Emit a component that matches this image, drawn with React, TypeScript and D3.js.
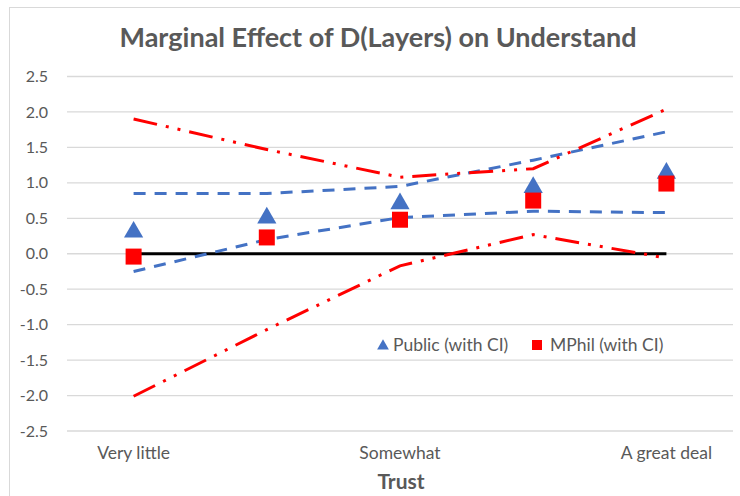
import React from "react";
import * as d3 from "d3";

const categories = ["Very little", "Not much", "Somewhat", "Quite a lot", "A great deal"];
const tickLabels = ["Very little", "", "Somewhat", "", "A great deal"];
const yTicks = [2.5, 2.0, 1.5, 1.0, 0.5, 0.0, -0.5, -1.0, -1.5, -2.0, -2.5];

const publicEst = [0.32, 0.52, 0.72, 0.95, 1.15];
const publicUpper = [0.85, 0.85, 0.95, 1.32, 1.72];
const publicLower = [-0.25, 0.2, 0.51, 0.6, 0.58];

const mphilEst = [-0.04, 0.23, 0.48, 0.75, 0.99];
const mphilUpper = [1.9, 1.47, 1.08, 1.2, 2.04];
const mphilLower = [-2.01, -1.07, -0.17, 0.27, -0.06];

const zeroLine = [0, 0, 0, 0, 0];

const FONT = "Lato, 'Open Sans', sans-serif";
const GRAY = "#595959";
const BLUE = "#4472C4";
const RED = "#FF0000";

export default function App() {
  const W = 740;
  const H = 496;
  const x = d3.scaleBand<string>().domain(categories).range([67, 733]);
  const y = d3.scaleLinear().domain([-2.5, 2.5]).range([431, 76.5]);
  const cx = (i: number) => (x(categories[i]) as number) + x.bandwidth() / 2;

  const line = d3
    .line<number>()
    .x((_, i) => cx(i))
    .y((d) => y(d));

  const tri = d3.symbol().type(d3.symbolTriangle).size(160);
  const triLegend = d3.symbol().type(d3.symbolTriangle).size(60);

  return (
    <div style={{ position: "absolute", left: 0, top: 0 }}>
      <svg width={W} height={H} style={{ display: "block", background: "#fff" }}>
        <rect x={9.5} y={7.5} width={W + 10} height={H + 10} fill="#fff" stroke="#d9d9d9" strokeWidth={1} />
        <text
          x={378}
          y={47}
          textAnchor="middle"
          fontFamily={FONT}
          fontWeight="bold"
          fontSize={27}
          fill={GRAY}
        >
          Marginal Effect of D(Layers) on Understand
        </text>
        {yTicks.map((t) => (
          <g key={t}>
            <line x1={67} x2={733} y1={y(t)} y2={y(t)} stroke="#d9d9d9" strokeWidth={1.3} />
            <text
              x={48}
              y={y(t)}
              dy="0.35em"
              textAnchor="end"
              fontFamily={FONT}
              fontSize={16}
              fill={GRAY}
            >
              {t.toFixed(1)}
            </text>
          </g>
        ))}
        {tickLabels.map((l, i) => (
          <text
            key={i}
            x={cx(i)}
            y={459}
            textAnchor="middle"
            fontFamily={FONT}
            fontSize={17.5}
            fill={GRAY}
          >
            {l}
          </text>
        ))}
        <text x={401} y={489} textAnchor="middle" fontFamily={FONT} fontWeight="bold" fontSize={21} fill={GRAY}>
          Trust
        </text>

        <path d={line(zeroLine) || ""} fill="none" stroke="#000" strokeWidth={2.8} />

        <path d={line(publicUpper) || ""} fill="none" stroke={BLUE} strokeWidth={3} strokeDasharray="12 9" />
        <path d={line(publicLower) || ""} fill="none" stroke={BLUE} strokeWidth={3} strokeDasharray="12 9" />
        <path d={line(mphilUpper) || ""} fill="none" stroke={RED} strokeWidth={3} strokeDasharray="24 9 3 9 3 9" />
        <path d={line(mphilLower) || ""} fill="none" stroke={RED} strokeWidth={3} strokeDasharray="24 9 3 9 3 9" />

        {publicEst.map((v, i) => (
          <path key={"p" + i} d={tri() || ""} transform={`translate(${cx(i)},${y(v) + 1})`} fill={BLUE} />
        ))}
        {mphilEst.map((v, i) => (
          <rect key={"m" + i} x={cx(i) - 8} y={y(v) - 8} width={16} height={16} fill={RED} />
        ))}

        <path d={triLegend() || ""} transform="translate(383,346)" fill={BLUE} />
        <text x={393} y={345} dy="0.35em" fontFamily={FONT} fontSize={17.5} fill={GRAY}>
          Public (with CI)
        </text>
        <rect x={532} y={340} width={10} height={10} fill={RED} />
        <text x={550} y={345} dy="0.35em" fontFamily={FONT} fontSize={17.5} fill={GRAY}>
          MPhil (with CI)
        </text>
      </svg>
    </div>
  );
}
